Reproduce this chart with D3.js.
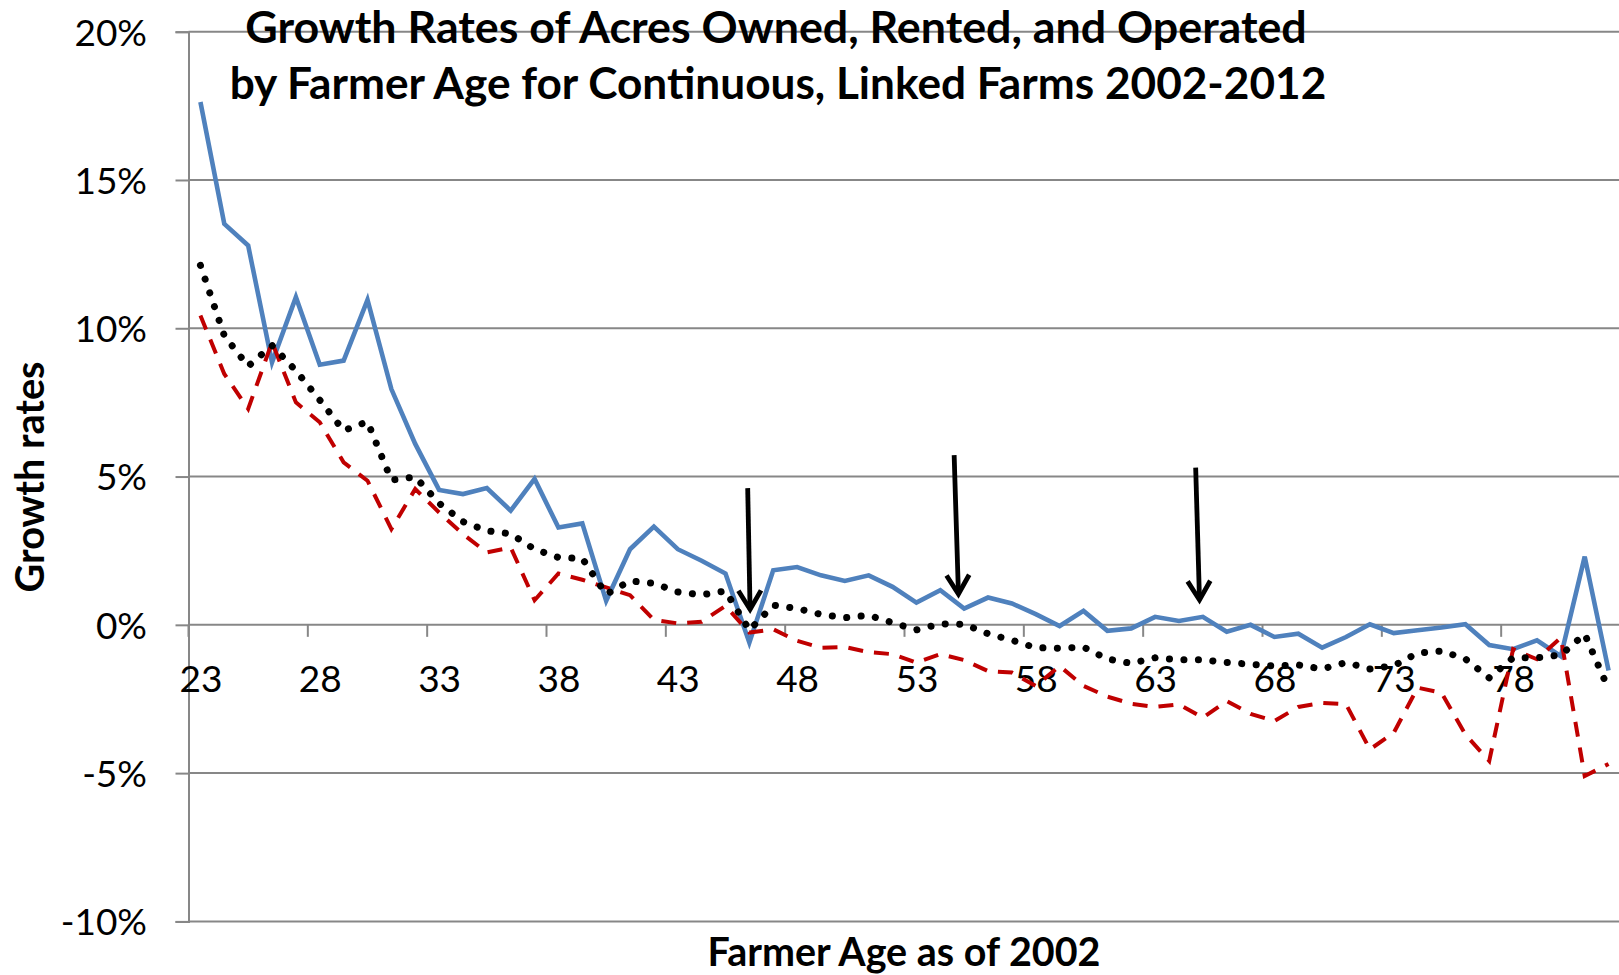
<!DOCTYPE html>
<html><head><meta charset="utf-8">
<script src="https://cdn.jsdelivr.net/npm/d3@7"></script>
<style>html,body{margin:0;padding:0;background:#fff;} svg{display:block;font-family:Lato,'Open Sans',sans-serif;}</style>
</head><body><svg id="chart" width="1619" height="975"></svg>
<script>
// ---- data ----
const ages = [23,24,25,26,27,28,29,30,31,32,33,34,35,36,37,38,39,40,41,42,43,44,45,46,47,48,49,50,51,52,
              53,54,55,56,57,58,59,60,61,62,63,64,65,66,67,68,69,70,71,72,73,74,75,76,77,78,79,80,81,82];
const owned = [17.63,13.52,12.79,8.85,11.05,8.77,8.91,10.96,7.95,6.10,4.55,4.41,4.61,3.85,4.92,3.28,3.42,0.81,2.55,3.31,
               2.55,2.16,1.73,-0.60,1.84,1.95,1.67,1.48,1.67,1.28,0.75,1.17,0.55,0.92,0.72,0.36,-0.04,0.47,-0.20,-0.12,
               0.27,0.13,0.27,-0.23,0.00,-0.41,-0.30,-0.77,-0.41,0.02,-0.28,-0.18,-0.09,0.02,-0.68,-0.82,-0.52,-1.06,2.30,-1.54];
const rented = [10.43,8.46,7.28,9.53,7.50,6.83,5.48,4.86,3.23,4.58,3.79,3.06,2.44,2.61,0.83,1.73,1.52,1.26,1.00,0.17,
                0.05,0.10,0.64,-0.26,-0.15,-0.54,-0.77,-0.75,-0.92,-0.99,-1.27,-0.99,-1.19,-1.56,-1.61,-2.06,-1.39,-2.06,-2.42,-2.66,
                -2.77,-2.68,-3.13,-2.57,-3.00,-3.24,-2.77,-2.63,-2.68,-4.20,-3.64,-2.12,-2.29,-3.70,-4.59,-0.82,-1.16,-0.43,-5.10,-4.69];
const operated = [12.12,9.75,8.72,9.42,8.57,7.58,6.55,6.85,4.88,4.99,4.10,3.48,3.17,3.07,2.55,2.27,2.24,1.03,1.48,1.40,
                  1.11,1.01,1.14,-0.18,0.66,0.55,0.35,0.24,0.32,0.07,-0.17,0.03,0.02,-0.30,-0.52,-0.77,-0.79,-0.75,-1.15,-1.30,
                  -1.11,-1.18,-1.18,-1.27,-1.33,-1.39,-1.35,-1.49,-1.27,-1.49,-1.38,-0.95,-0.88,-1.15,-1.79,-1.11,-1.11,-1.02,-0.31,-2.17];
const xTickLabels = ["23","28","33","38","43","48","53","58","63","68","73","78"];
const yTickValues = [-10,-5,0,5,10,15,20];
const titleLines = ["Growth Rates of Acres Owned, Rented, and Operated","by Farmer Age for Continuous, Linked Farms 2002-2012"];
const xTitle = "Farmer Age as of 2002";
const yTitle = "Growth rates";
// annotation arrows: [start age, tip age], [start value, tip value]
const arrowAges = [[45.93,46.03],[54.58,54.76],[64.70,64.86]];
const arrowValues = [[4.61,0.52],[5.72,1.04],[5.30,0.84]];

// ---- layout ----
const W = 1619, H = 975;
const pLeft = 188.5, pRight = 1620.5, pTop = 31.7, pBottom = 921.4;
const svg = d3.select("#chart");
const grid = "#878787";

const x = d3.scalePoint().domain(ages).range([pLeft, pRight]).padding(0.5);
const step = x.step();
const xLin = d3.scaleLinear().domain([ages[0], ages[ages.length-1]]).range([x(ages[0]), x(ages[ages.length-1])]);
const y = d3.scaleLinear().domain([-10, 20]).range([pBottom, pTop]);

function fit(sel, target){
  const w = sel.node().getComputedTextLength();
  const fs = parseFloat(sel.style("font-size"));
  sel.style("font-size", (fs*target/w) + "px");
}

// gridlines
svg.append("g").selectAll("line").data(yTickValues).join("line")
  .attr("x1", pLeft).attr("x2", W).attr("y1", d=>y(d)).attr("y2", d=>y(d))
  .attr("stroke", grid).attr("stroke-width", 2);

// y axis
const yAxis = svg.append("g").attr("transform", `translate(${pLeft},0)`)
  .call(d3.axisLeft(y).tickValues(yTickValues).tickFormat(d=>d+"%").tickSize(13).tickPadding(28.5));
yAxis.select(".domain").attr("stroke", grid).attr("stroke-width", 2);
yAxis.selectAll(".tick line").attr("stroke", grid).attr("stroke-width", 2);
yAxis.selectAll(".tick text").style("font-size","37px").style("font-family","Lato").attr("fill","#000").attr("dy","0.36em");

// x axis (labels at category centers, ticks between categories)
const xAxis = svg.append("g").attr("transform", `translate(0,${y(0)})`)
  .call(d3.axisBottom(x).tickValues(xTickLabels.map(Number)).tickSize(0).tickFormat((d,i)=>xTickLabels[i]));
xAxis.select(".domain").remove();
xAxis.selectAll(".tick text").style("font-size","37px").style("font-family","Lato").attr("fill","#000").attr("dy",0).attr("y",67);
svg.append("g").selectAll("line").data(xTickLabels.map(Number)).join("line")
  .attr("x1", d=>x(d)-step/2).attr("x2", d=>x(d)-step/2)
  .attr("y1", y(0)).attr("y2", y(0)+12)
  .attr("stroke", grid).attr("stroke-width", 2);

// series
const line = d3.line().x((d,i)=>x(ages[i])).y(d=>y(d));
svg.append("path").datum(owned).attr("d", line)
  .attr("fill","none").attr("stroke","#4F81BD").attr("stroke-width",4.6);
svg.append("path").datum(rented).attr("d", line)
  .attr("fill","none").attr("stroke","#C00000").attr("stroke-width",4)
  .attr("stroke-dasharray","15,11");
svg.append("path").datum(operated).attr("d", line)
  .attr("fill","none").attr("stroke","#000").attr("stroke-width",7)
  .attr("stroke-linecap","round").attr("stroke-dasharray","0.1,14.4");

// arrows
arrowAges.forEach((a,i)=>{
  const x0 = xLin(a[0]), y0 = y(arrowValues[i][0]);
  const x1 = xLin(a[1]), y1 = y(arrowValues[i][1]);
  const ang = Math.atan2(y1-y0, x1-x0);
  const L = 22, spread = 31*Math.PI/180;
  const wa = [ang+Math.PI-spread, ang+Math.PI+spread].map(t=>[x1+L*Math.cos(t), y1+L*Math.sin(t)]);
  const g = svg.append("g").attr("stroke","#000").attr("stroke-width",4.8).attr("fill","none");
  g.append("line").attr("x1",x0).attr("y1",y0).attr("x2",x1).attr("y2",y1);
  g.append("path").attr("d",`M${wa[0][0]},${wa[0][1]}L${x1},${y1}L${wa[1][0]},${wa[1][1]}`)
    .attr("stroke-linejoin","miter");
});

// titles
const t1 = svg.append("text").attr("x",776).attr("y",43).attr("text-anchor","middle")
  .style("font-weight","bold").style("font-size","37px").text(titleLines[0]);
fit(t1, 1062);
const t2 = svg.append("text").attr("x",778).attr("y",99).attr("text-anchor","middle")
  .style("font-weight","bold").style("font-size","37px").text(titleLines[1]);
fit(t2, 1097);
const xt = svg.append("text").attr("x",904).attr("y",966).attr("text-anchor","middle")
  .style("font-weight","bold").style("font-size","37px").text(xTitle);
fit(xt, 393);
const yt = svg.append("text").attr("transform","translate(43.5,477) rotate(-90)").attr("text-anchor","middle")
  .style("font-weight","bold").style("font-size","37px").text(yTitle);
fit(yt, 231);
</script>
</body></html>
